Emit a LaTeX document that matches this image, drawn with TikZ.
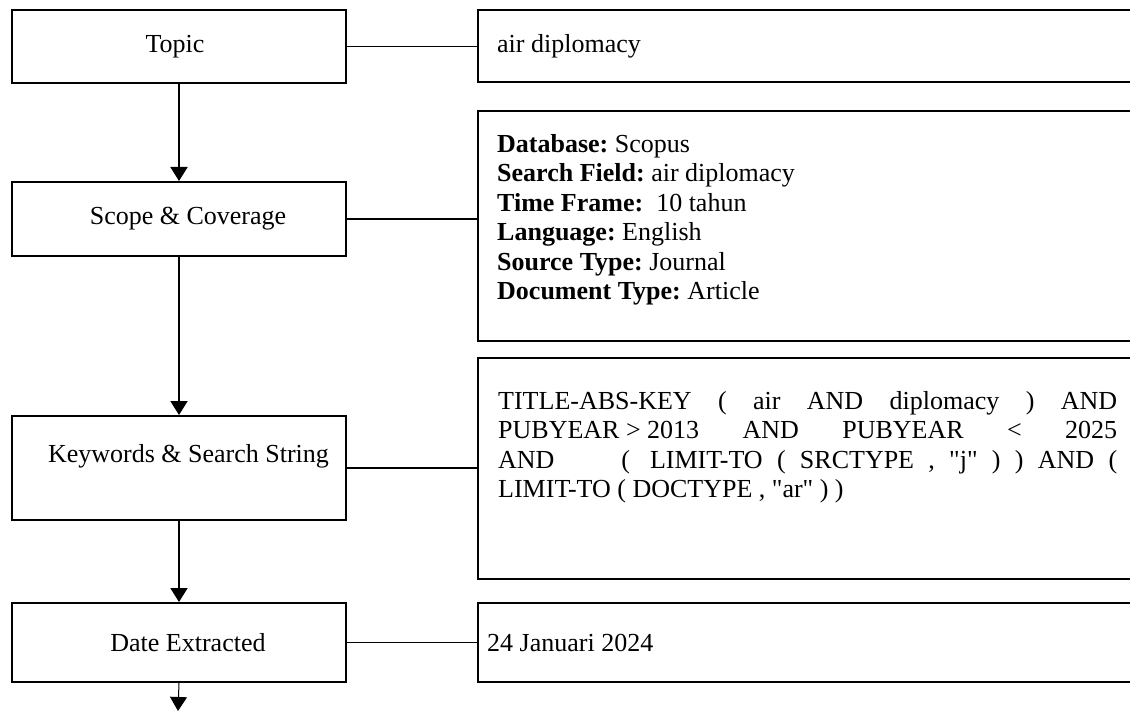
\documentclass[tikz,border=0pt]{standalone}
\usepackage{fontspec}
\setmainfont{Liberation Serif}[Ligatures=TeXOff]
\usetikzlibrary{arrows.meta}
\begin{document}
\frenchspacing
\begin{tikzpicture}[x=1pt,y=-1pt,
  every node/.style={font=\fontsize{26pt}{29.5pt}\selectfont},
  leftbox/.style={draw=black,line width=2pt,rectangle,anchor=north west,minimum width=334pt,inner sep=0pt,align=center},
  rightbox/.style={draw=black,line width=2pt,rectangle,anchor=north west,minimum width=700pt,inner sep=0pt},
  txt/.style={inner sep=0pt,align=left},
  link/.style={line width=1.6pt},
  flow/.style={line width=1.8pt,-{Triangle[width=17pt,length=14pt]}},
  flowthin/.style={line width=1pt,-{Triangle[width=17pt,length=14pt]}}]
\useasboundingbox (0,0) rectangle (1130,711);
\clip (0,0) rectangle (1130,711);
% left column
\node[leftbox,minimum height=73pt] (topic) at (11,9) {\hspace*{-8pt}Topic};
\node[leftbox,minimum height=74pt] (scope) at (11,181) {\hspace*{18pt}Scope \& Coverage};
\node[leftbox,minimum height=104pt] (kw) at (11,415) {\hspace*{19pt}Keywords \& Search String\\\mbox{}};
\node[leftbox,minimum height=79pt] (date) at (11,602) {\hspace*{18pt}Date Extracted};
\coordinate (end) at (178,711);
% right column boxes
\node[rightbox,minimum height=72pt] (b1) at (477,9) {};
\node[rightbox,minimum height=230pt] (b2) at (477,110) {};
\node[rightbox,minimum height=221pt] (b3) at (477,357) {};
\node[rightbox,minimum height=79pt] (b4) at (477,602) {};
% texts
\node[txt,anchor=base west] (t1) at (497,53) {air diplomacy};
\node[txt,anchor=north west] (t2) at (497,134) {\textbf{Database:} Scopus\\
\textbf{Search Field:} air diplomacy\\
\textbf{Time Frame:}\ \ 10 tahun\\
\textbf{Language:} English\\
\textbf{Source Type:} Journal\\
\textbf{Document Type:} Article};
\node[txt,anchor=north west] (t3) at (498,391) {\parbox[t]{619pt}{\fontsize{26pt}{29.5pt}\selectfont\raggedright\spaceskip=0.25em plus 3em minus 0.05em\rightskip=0pt plus 0pt\parfillskip=0pt plus 1fil
TITLE-ABS-KEY ( air AND diplomacy ) AND\linebreak
\mbox{PUBYEAR > 2013} AND PUBYEAR < 2025\linebreak
AND\hfill(\hspace{20pt}{\spaceskip=0.55em\mbox{LIMIT-TO ( SRCTYPE , "j" ) ) AND (}}\linebreak
LIMIT-TO ( DOCTYPE , "ar" ) )}};
\node[txt,anchor=base west] (t4) at (487,651) {24 Januari 2024};
% connectors
\draw[link] (topic.east) -- (b1.west |- topic.east);
\draw[link] (scope.east) -- (b2.west |- scope.east);
\draw[link] (kw.east) -- (b3.west |- kw.east);
\draw[link] (date.east) -- (b4.west |- date.east);
\draw[flow] (topic.south) -- (scope.north);
\draw[flow] (scope.south) -- (kw.north);
\draw[flow] (kw.south) -- (date.north);
\draw[flowthin] (date.south) -- (end);
\end{tikzpicture}
\end{document}
